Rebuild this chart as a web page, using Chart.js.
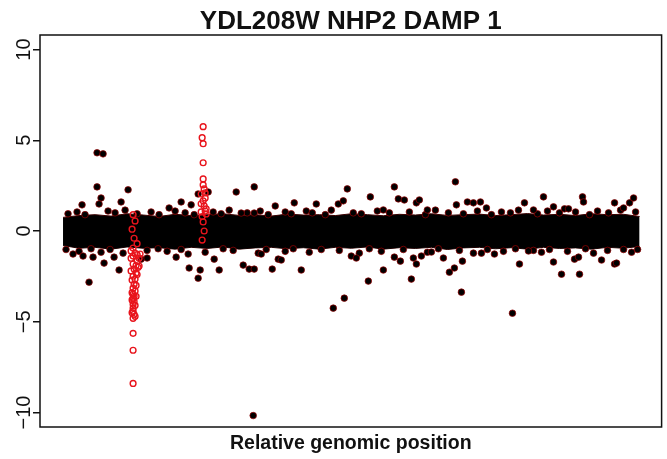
<!DOCTYPE html>
<html>
<head>
<meta charset="utf-8">
<script src="https://cdn.jsdelivr.net/npm/chart.js@4/dist/chart.umd.min.js"></script>
<style>
  html, body { margin: 0; padding: 0; background: #fff; }
  #wrap { width: 667px; height: 459px; }
</style>
</head>
<body>
<div id="wrap"><canvas id="grafico" width="667" height="459"></canvas></div>
<script>
// ---- datos (posicion relativa 0..575, log ratio) ----
const tituloGrafico = 'YDL208W NHP2 DAMP 1';
const etiquetaX = 'Relative genomic position';
const ticksY = [-10, -5, 0, 5, 10];
const etiquetasY = ['\u221210', '\u22125', '0', '5', '10'];

// banda densa de puntos: borde superior e inferior
const bandaX = [0,16,32,48,64,80,96,112,128,144,160,176,192,208,224,240,256,272,288,304,320,336,352,368,384,400,416,432,448,464,480,496,512,528,544,560,576];
const bandaSup = [0.75,0.85,0.9,0.82,0.95,0.88,0.8,0.92,0.85,0.9,0.95,0.86,0.9,0.82,0.93,0.88,0.9,0.85,0.95,0.9,0.84,0.92,0.88,0.95,0.86,0.9,0.93,0.85,0.9,0.96,0.88,0.92,0.85,0.95,0.9,0.92,0.8];
const bandaInf = [-0.8,-0.95,-0.9,-1.0,-0.88,-0.95,-0.92,-1.0,-0.9,-0.96,-0.88,-1.0,-0.93,-0.9,-0.98,-0.92,-1.0,-0.9,-0.95,-0.88,-1.0,-0.92,-0.96,-0.9,-1.02,-0.93,-0.9,-0.98,-0.92,-1.0,-0.9,-0.96,-0.93,-1.0,-0.9,-0.95,-0.85];

// puntos pegados al borde de la banda
const bordeSupX = [5,14,22,45,52,62,74,88,96,112,122,131,150,158,166,184,197,205,222,228,243,249,262,268,290,298,314,326,346,362,372,385,400,414,428,438,447,455,474,484,496,512,526,534,545,557,572];
const bordeSupY = [0.95,1.05,0.9,1.1,1.0,1.15,0.95,1.05,0.9,1.1,1.0,0.9,1.05,0.95,1.15,1.0,1.1,0.9,1.05,0.95,1.1,1.0,0.9,1.15,1.0,0.95,1.1,1.0,1.05,0.9,1.15,1.0,0.95,1.1,0.9,1.05,1.0,1.15,0.95,1.1,1.0,1.05,0.9,1.1,1.0,1.15,1.05];
const bordeInfX = [3,16,28,38,47,60,84,95,104,118,142,160,170,195,203,222,230,246,258,276,296,306,318,340,364,375,396,418,424,440,452,470,478,486,504,522,530,544,560,568,574];
const bordeInfY = [-1.02,-1.12,-0.98,-1.17,-1.02,-1.22,-1.07,-0.98,-1.12,-1.02,-1.17,-0.98,-1.07,-1.22,-1.02,-1.12,-0.98,-1.17,-1.02,-1.07,-1.22,-0.98,-1.12,-1.02,-1.17,-0.98,-1.07,-1.22,-1.02,-1.12,-0.98,-1.07,-1.17,-1.02,-1.12,-0.98,-1.22,-1.07,-1.02,-1.17,-1.02];

// puntos sueltos (negros)
const sueltosX = [34,40,34,38,36,65,58,19,106,118,128,135,145,173,191,178,191,212,231,253,275,280,284,307,320,331,335,341,353,356,364,392,393,404,410,417,423,461,470,480,490,501,505,519,520,551,560,566,570,
  26,10,20,30,41,51,56,78,84,113,125,126,135,137,151,156,180,186,191,198,209,215,218,238,190,270,281,288,293,305,320,331,337,348,350,353,358,368,380,386,391,398,399,410,431,449,456,465,490,498,511,515,516,538,551,553];
const sueltosY = [4.31,4.25,2.43,1.82,1.49,2.27,1.60,1.44,1.27,1.60,1.44,2.04,2.15,2.15,2.43,0.99,0.99,1.38,1.55,1.49,1.49,1.66,2.32,1.88,1.16,2.43,1.77,1.71,1.55,1.71,1.16,2.71,1.44,1.60,1.55,1.60,1.27,1.55,1.16,1.88,1.33,1.22,1.22,1.88,1.60,1.55,1.27,1.55,1.82,
  -2.82,-1.27,-1.38,-1.44,-1.77,-1.44,-2.15,-1.55,-1.49,-1.44,-1.27,-2.04,-2.60,-2.15,-1.55,-2.15,-1.88,-2.10,-2.10,-1.27,-2.10,-1.55,-1.60,-2.15,-10.17,-4.25,-3.70,-1.38,-1.49,-2.76,-2.15,-1.44,-1.66,-2.65,-1.49,-1.82,-1.38,-1.16,-1.49,-2.27,-2.04,-3.37,-1.66,-1.22,-1.27,-4.53,-1.82,-1.10,-1.71,-2.38,-1.55,-1.44,-2.38,-1.60,-1.82,-1.77];

// sondas destacadas (circulos rojos)
const rojosX = [70,72,70,74,70,76,71,73,70,72,71,70,72,70,71,70,71,70,70,70,71,70,70,70,70,70,72,69,71,74,77,76,75,
  68,74,68,73,68,74,69,73,69,73,69,72,69,72,
  140,139,140,140,140,140,141,138,142,140,141,143,138,143,140,141,139,142,138,142,139];
const rojosY = [-0.94,-1.22,-1.38,-1.66,-1.82,-1.93,-2.10,-2.32,-2.49,-2.65,-2.93,-3.15,-3.31,-3.48,-3.59,-3.70,-3.87,-4.03,-4.25,-4.42,-4.59,-4.81,-5.64,-6.57,-8.40,0.9,0.55,0.1,-0.4,-0.7,-1.27,-1.5,-2.0,
  -1.1,-1.3,-1.5,-1.9,-2.2,-2.4,-2.7,-3.0,-3.4,-3.6,-3.8,-4.1,-4.5,-4.7,
  5.75,5.14,4.81,3.76,2.87,2.54,2.32,2.04,1.82,1.66,1.38,1.22,1.05,0.94,0.5,0.0,-0.5,2.1,1.5,1.1,0.8];

// ---- construccion ----
const aPuntos = (xs, ys) => xs.map((x, i) => ({ x: x, y: ys[i] }));

const fuente = '"Liberation Sans", Arial, Helvetica, sans-serif';

const textosR = {
  id: 'textosR',
  afterDraw(chart) {
    const ctx = chart.ctx;
    const area = chart.chartArea;
    const escalaY = chart.scales.y;
    ctx.save();
    // caja
    ctx.strokeStyle = '#111';
    ctx.lineWidth = 1.5;
    ctx.strokeRect(area.left, area.top, area.right - area.left, area.bottom - area.top);
    // titulo
    ctx.fillStyle = '#111';
    ctx.textAlign = 'center';
    ctx.textBaseline = 'alphabetic';
    ctx.font = 'bold 26px ' + fuente;
    ctx.fillText(tituloGrafico, (area.left + area.right) / 2, 29);
    // etiqueta eje x
    ctx.font = 'bold 19.5px ' + fuente;
    ctx.fillText(etiquetaX, (area.left + area.right) / 2, 449);
    // etiquetas eje y (giradas)
    ctx.font = '20px ' + fuente;
    ticksY.forEach((v, i) => {
      const py = escalaY.getPixelForValue(v);
      ctx.save();
      ctx.translate(30, py);
      ctx.rotate(-Math.PI / 2);
      ctx.fillText(etiquetasY[i], 0, 0);
      ctx.restore();
    });
    ctx.restore();
  }
};

const estiloNegro = {
  backgroundColor: '#000',
  borderColor: 'rgba(150,0,0,0.9)',
  borderWidth: 0.8,
  pointRadius: 3.3
};

new Chart(document.getElementById('grafico'), {
  type: 'scatter',
  data: {
    datasets: [
      {
        data: aPuntos(rojosX, rojosY),
        backgroundColor: 'rgba(0,0,0,0)',
        borderColor: '#e8141c',
        borderWidth: 1.4,
        pointRadius: 2.9
      },
      Object.assign({ data: aPuntos(sueltosX, sueltosY) }, estiloNegro),
      Object.assign({ data: aPuntos(bordeSupX, bordeSupY) }, estiloNegro),
      Object.assign({ data: aPuntos(bordeInfX, bordeInfY) }, estiloNegro),
      {
        type: 'line',
        data: aPuntos(bandaX, bandaSup),
        borderColor: '#3a0000',
        borderWidth: 1,
        backgroundColor: '#000',
        pointRadius: 0,
        fill: '+1'
      },
      {
        type: 'line',
        data: aPuntos(bandaX, bandaInf),
        borderColor: '#3a0000',
        borderWidth: 1,
        pointRadius: 0,
        fill: false
      }
    ]
  },
  options: {
    responsive: false,
    animation: false,
    layout: { padding: { top: 35, right: 5, bottom: 32, left: 0 } },
    plugins: {
      legend: { display: false },
      tooltip: { enabled: false },
      title: { display: false }
    },
    scales: {
      x: {
        type: 'linear',
        display: false,
        min: -23,
        max: 598
      },
      y: {
        type: 'linear',
        min: -10.8,
        max: 10.8,
        afterBuildTicks: (s) => { s.ticks = ticksY.map(v => ({ value: v })); },
        afterFit: (s) => { s.width = 40; },
        ticks: { display: false },
        grid: { display: true, drawOnChartArea: false, drawTicks: true, tickLength: 7, color: '#111', lineWidth: 1.5 },
        border: { display: false }
      }
    }
  },
  plugins: [textosR]
});
</script>
</body>
</html>
